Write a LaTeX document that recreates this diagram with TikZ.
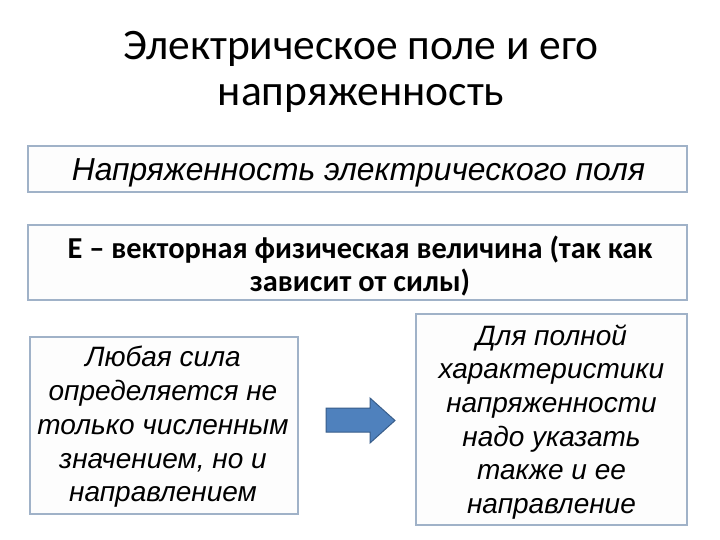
\documentclass[tikz,border=0pt]{standalone}
\usepackage{fontspec}
\setmainfont{Liberation Sans}
\newfontfamily\calibri{Carlito}
\definecolor{boxline}{RGB}{160,178,200}
\definecolor{boxfill}{RGB}{253,253,253}
\definecolor{arrowfill}{RGB}{79,129,189}
\definecolor{arrowline}{RGB}{56,93,138}
\tikzset{
  panel/.style={draw=boxline, line width=1.2pt, fill=boxfill},
  itxt/.style={font=\fontsize{28}{33.7}\selectfont\itshape, align=center, text=black, inner sep=0pt},
  btxt/.style={font=\calibri\fontsize{30.4}{33}\selectfont\bfseries, align=center, text=black, inner sep=0pt},
}
\begin{document}
\begin{tikzpicture}[x=1pt,y=-1pt]
\useasboundingbox (0,0) rectangle (720,540);
\fill[white] (0,0) rectangle (720,540);
% title
\node[font=\calibri\fontsize{43.5}{46}\selectfont, align=center, inner sep=0pt] (title) at (361,72) {Электрическое поле и его\\напряженность};
% box 1
\draw[panel] (28,146) rectangle (687,192);
\node[font=\fontsize{31.8}{36}\selectfont\itshape, text=black, inner sep=0pt] (b1) at (358.5,173) {Напряженность электрического поля};
% box 2
\draw[panel] (28,225) rectangle (687,300);
\node[btxt] (b2) at (360,266) {E – векторная физическая величина (так как\\зависит от силы)};
% box 3
\draw[panel] (30,337) rectangle (298,514);
\node[itxt] (b3) at (163,427) {Любая сила\\определяется не\\только численным\\значением, но и\\направлением};
% box 4
\draw[panel] (416,314) rectangle (687,525);
\node[itxt] (b4) at (551.5,422) {Для полной\\характеристики\\напряженности\\надо указать\\также и ее\\направление};
% arrow
\draw[fill=arrowfill, draw=arrowline, line width=1pt]
  (326,408) -- (370,408) -- (370,398) -- (395,420.5) -- (370,443) -- (370,432) -- (326,432) -- cycle;
\end{tikzpicture}
\end{document}
